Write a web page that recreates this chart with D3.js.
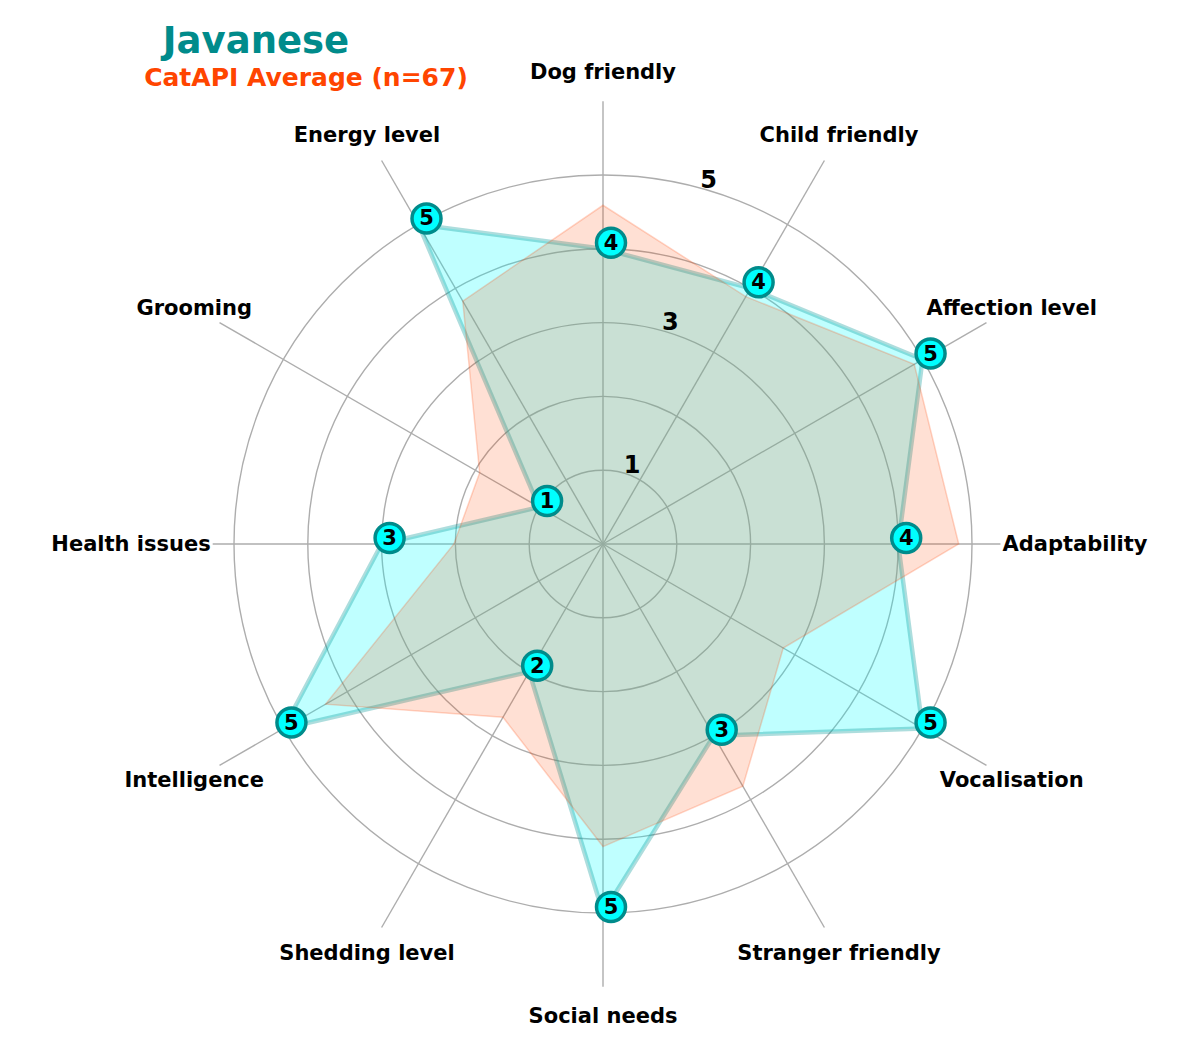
<!DOCTYPE html>
<html>
<head>
<meta charset="utf-8">
<script src="https://cdn.jsdelivr.net/npm/d3@7"></script>
<style>
  html, body { margin: 0; padding: 0; background: #ffffff; }
  svg { display: block; }
  text { font-family: "DejaVu Sans", sans-serif; }
</style>
</head>
<body>
<svg id="chart" width="1200" height="1050"></svg>
<script>
const categories = ["Adaptability", "Affection level", "Child friendly", "Dog friendly",
  "Energy level", "Grooming", "Health issues", "Intelligence", "Shedding level",
  "Social needs", "Stranger friendly", "Vocalisation"];
const breedName = "Javanese";
const breedValues = [4, 5, 4, 4, 5, 1, 3, 5, 2, 5, 3, 5];
const averageLabel = "CatAPI Average (n=67)";
const averageValues = [4.82, 4.87, 3.87, 4.59, 3.80, 1.93, 2.02, 4.34, 2.71, 4.10, 3.79, 2.82];
const gridLevels = [1, 2, 3, 4, 5];
const tickLabels = [1, 3, 5];

const cx = 603, cy = 544;
const svg = d3.select("#chart");
const g = svg.append("g").attr("transform", `translate(${cx},${cy})`);

const n = categories.length;
const r = d3.scaleLinear().domain([0, 5]).range([0, 369]);
// d3 radial angle (clockwise from 12 o'clock); first category at 3 o'clock, counter-clockwise
const angle = d3.scaleLinear().domain([0, n]).range([Math.PI / 2, Math.PI / 2 - 2 * Math.PI]);
const px = (a, rad) => rad * Math.sin(a);
const py = (a, rad) => -rad * Math.cos(a);

const gridColor = "#adadad";

// grid circles
g.selectAll("circle.grid").data(gridLevels).join("circle")
  .attr("class", "grid").attr("r", d => r(d))
  .attr("fill", "none").attr("stroke", gridColor).attr("stroke-width", 1.4);

// spokes
g.selectAll("line.spoke").data(categories).join("line")
  .attr("class", "spoke")
  .attr("x1", 0).attr("y1", 0)
  .attr("x2", (d, i) => px(angle(i), r(6)))
  .attr("y2", (d, i) => py(angle(i), r(6)))
  .attr("stroke", gridColor).attr("stroke-width", 1.4);

const radial = d3.lineRadial()
  .angle((d, i) => angle(i))
  .radius(d => r(d))
  .curve(d3.curveLinearClosed);

// breed polygon
g.append("path").datum(breedValues)
  .attr("d", radial)
  .attr("fill", "rgba(0,255,255,0.25)")
  .attr("stroke", "rgba(0,150,150,0.32)")
  .attr("stroke-width", 4.5)
  .attr("stroke-linejoin", "round");

// average polygon
g.append("path").datum(averageValues)
  .attr("d", radial)
  .attr("fill", "rgba(255,69,0,0.17)")
  .attr("stroke", "rgba(255,69,0,0.22)")
  .attr("stroke-width", 1.5);

// radial tick labels
const tickAngle = Math.PI / 2 - (75 * Math.PI / 180);
g.selectAll("text.tick").data(tickLabels).join("text")
  .attr("class", "tick")
  .attr("x", d => px(tickAngle, r(d)) + 10)
  .attr("y", d => py(tickAngle, r(d)) - 8)
  .attr("text-anchor", "middle").attr("dominant-baseline", "central")
  .attr("font-size", 24).attr("font-weight", "bold").attr("fill", "#000")
  .text(d => d);

// category labels with white backgrounds
const labG = g.selectAll("g.lab").data(categories).join("g").attr("class", "lab");
labG.each(function (d, i) {
  const gg = d3.select(this);
  const t = gg.append("text")
    .attr("x", px(angle(i), 472))
    .attr("y", py(angle(i), 472))
    .attr("text-anchor", "middle").attr("dominant-baseline", "central")
    .attr("font-size", 21).attr("font-weight", "bold").attr("fill", "#000")
    .text(d);
  const bb = t.node().getBBox();
  gg.insert("rect", "text")
    .attr("x", bb.x - 2).attr("y", bb.y)
    .attr("width", bb.width + 4).attr("height", bb.height)
    .attr("fill", "#fff");
});

// value markers
const mk = g.selectAll("g.marker").data(breedValues).join("g")
  .attr("class", "marker")
  .attr("transform", (d, i) => `translate(${px(angle(i), r(d)) + 8},${py(angle(i), r(d)) - 6})`);
mk.append("circle").attr("r", 14.5)
  .attr("fill", "#00ffff").attr("stroke", "#008b8b").attr("stroke-width", 3.5);
mk.append("text")
  .attr("text-anchor", "middle").attr("dominant-baseline", "central")
  .attr("y", 0)
  .attr("font-size", 21).attr("font-weight", "bold").attr("fill", "#000")
  .text(d => d);

// titles
svg.append("text").attr("x", 256).attr("y", 53)
  .attr("text-anchor", "middle").attr("font-size", 37).attr("font-weight", "bold")
  .attr("fill", "#008b8b").text(breedName);
svg.append("text").attr("x", 306).attr("y", 86)
  .attr("text-anchor", "middle").attr("font-size", 25).attr("font-weight", "bold")
  .attr("fill", "#ff4500").text(averageLabel);
</script>
</body>
</html>
